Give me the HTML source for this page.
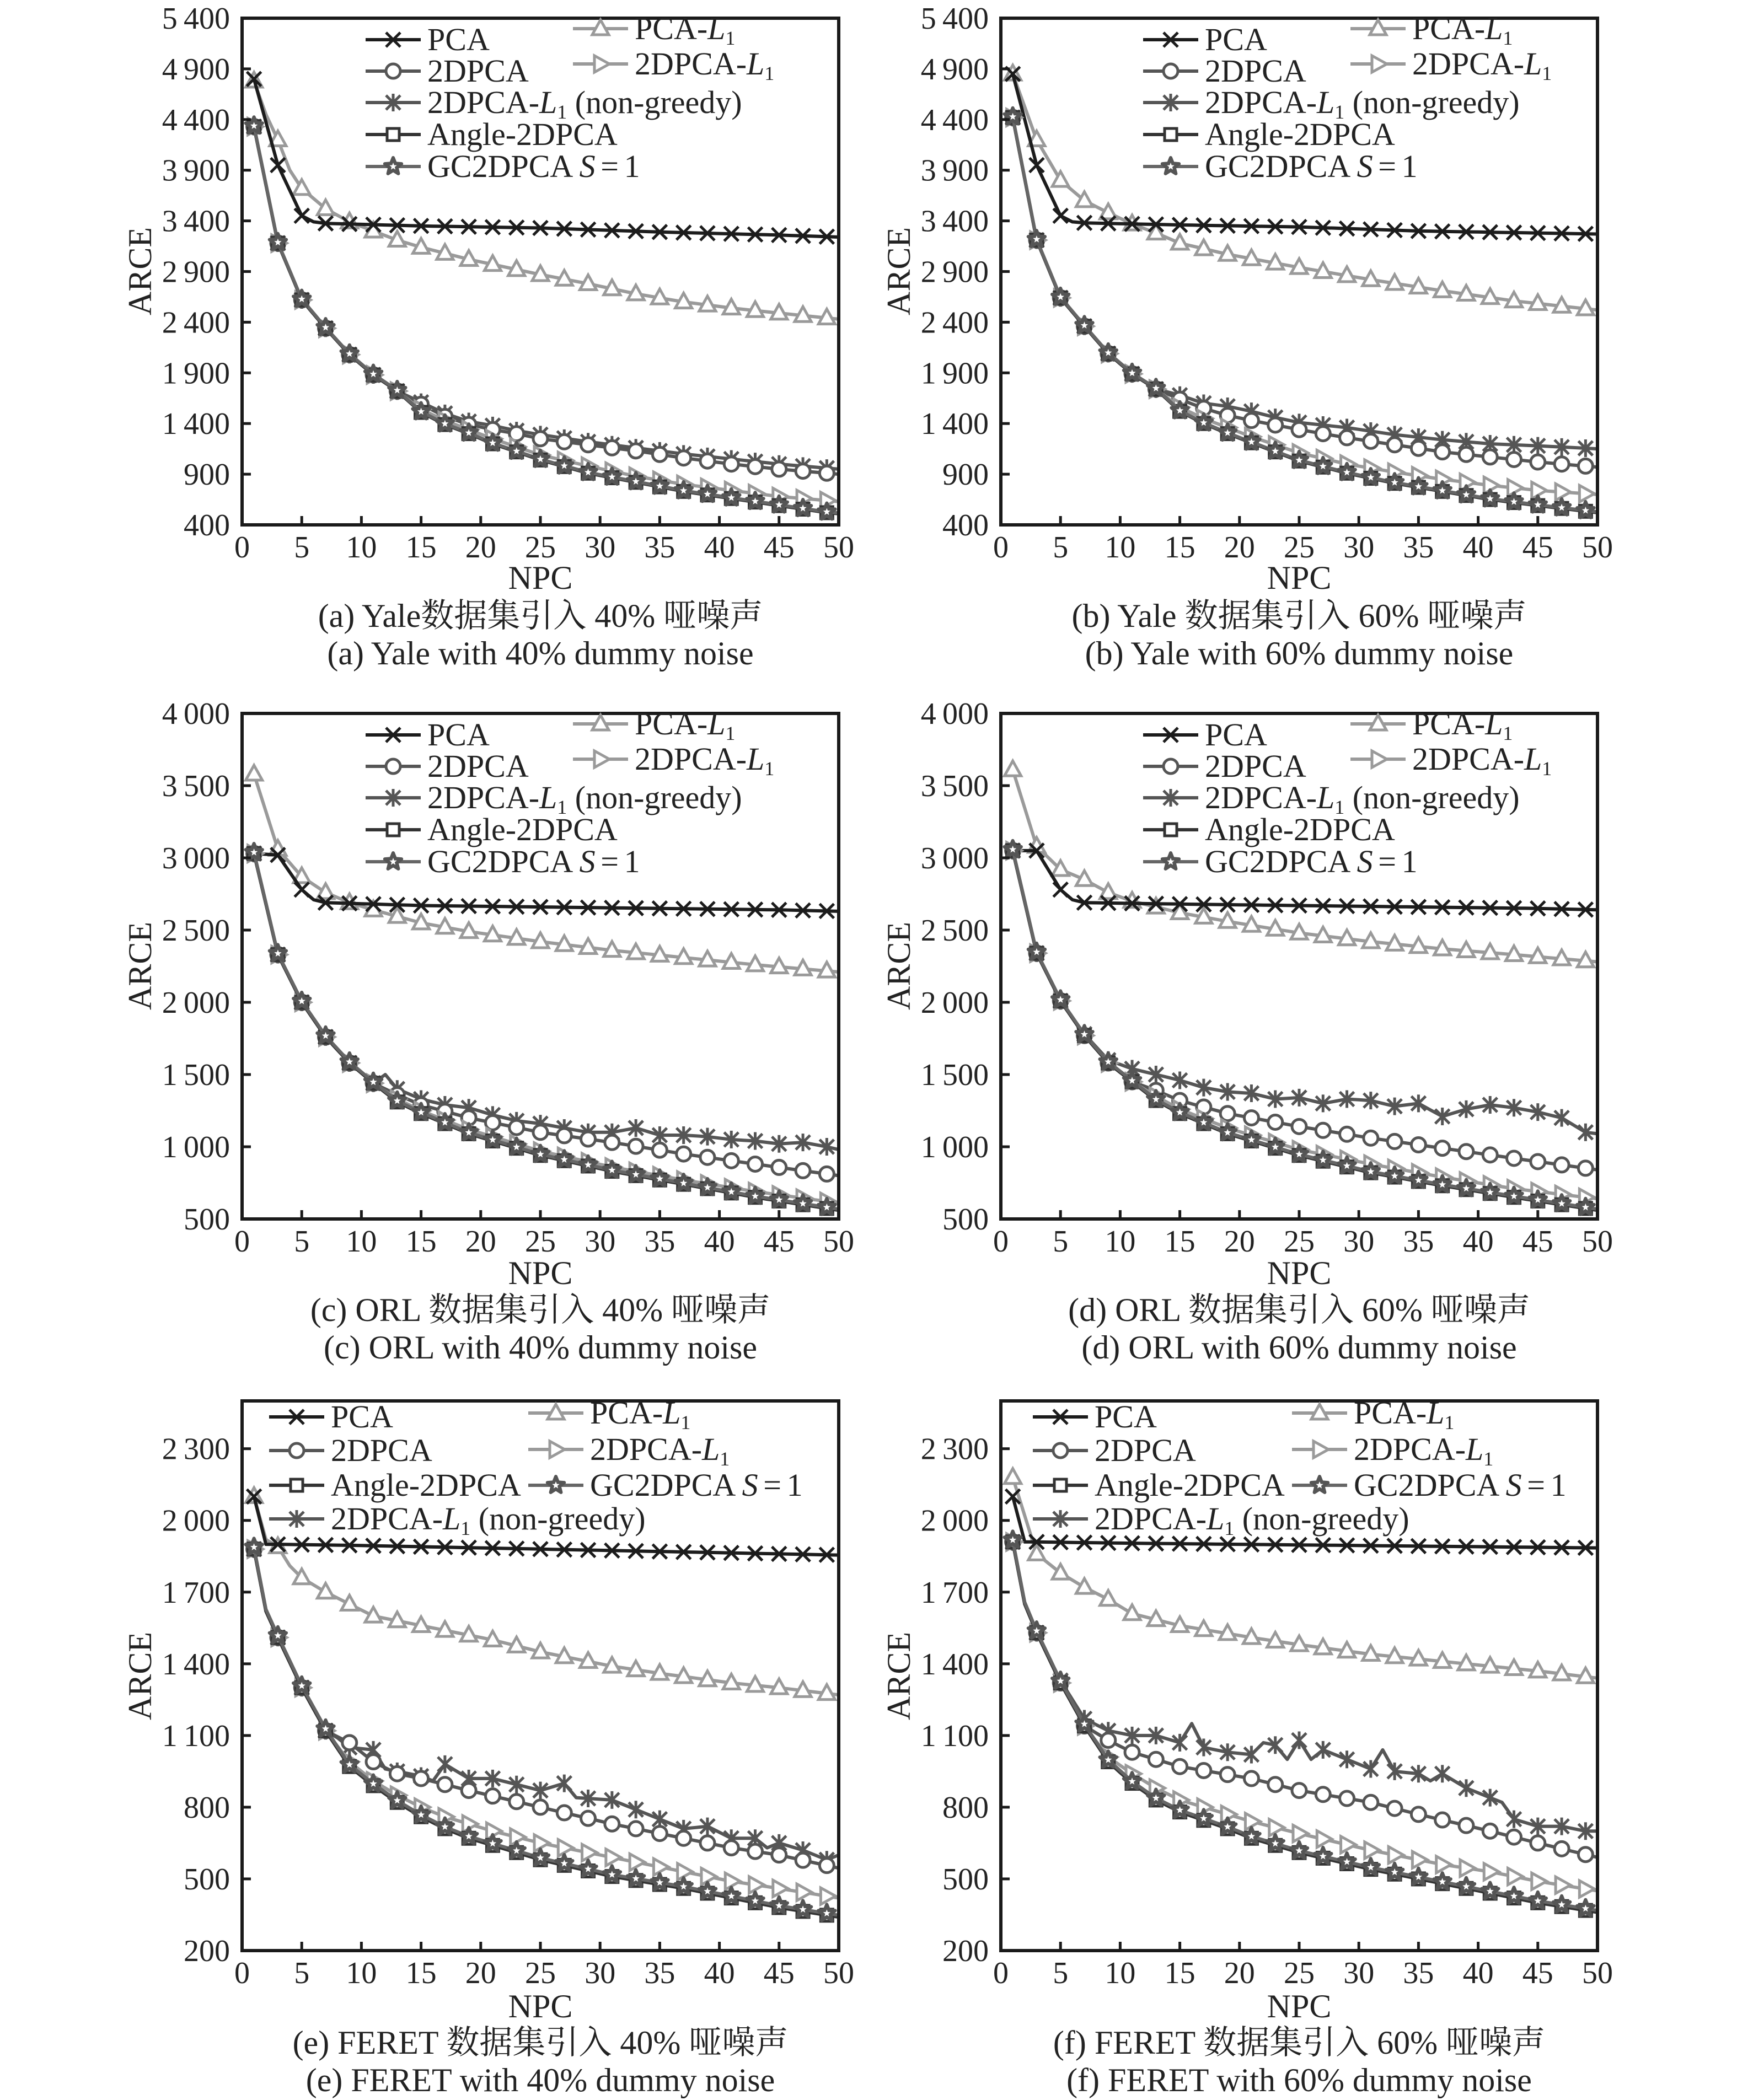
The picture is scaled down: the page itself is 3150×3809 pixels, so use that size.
<!DOCTYPE html>
<html><head><meta charset="utf-8"><style>
html,body{margin:0;padding:0;background:#fff}
svg{display:block}
text{font-family:"Liberation Serif","Noto Serif CJK SC",serif;fill:#222}
</style></head><body>
<svg id="s" xmlns="http://www.w3.org/2000/svg" width="3150" height="3809" viewBox="0 0 3150 3809">
<rect width="3150" height="3809" fill="#fff"/>
<g id="plots"></g>
<g font-size="60" text-anchor="middle">
<text x="980" y="1137">(a) Yale数据集引入 40% 哑噪声</text>
<text x="980" y="1205">(a) Yale with 40% dummy noise</text>
<text x="2356" y="1137">(b) Yale 数据集引入 60% 哑噪声</text>
<text x="2356" y="1205">(b) Yale with 60% dummy noise</text>
<text x="980" y="2396">(c) ORL 数据集引入 40% 哑噪声</text>
<text x="980" y="2464">(c) ORL with 40% dummy noise</text>
<text x="2356" y="2396">(d) ORL 数据集引入 60% 哑噪声</text>
<text x="2356" y="2464">(d) ORL with 60% dummy noise</text>
<text x="980" y="3725">(e) FERET 数据集引入 40% 哑噪声</text>
<text x="980" y="3793">(e) FERET with 40% dummy noise</text>
<text x="2356" y="3725">(f) FERET 数据集引入 60% 哑噪声</text>
<text x="2356" y="3793">(f) FERET with 60% dummy noise</text>
<text x="980" y="1068">NPC</text><text x="2356" y="1068">NPC</text>
<text x="980" y="2329">NPC</text><text x="2356" y="2329">NPC</text>
<text x="980" y="3659">NPC</text><text x="2356" y="3659">NPC</text>
<text transform="translate(274,492) rotate(-90)">ARCE</text>
<text transform="translate(1650,492) rotate(-90)">ARCE</text>
<text transform="translate(274,1752) rotate(-90)">ARCE</text>
<text transform="translate(1650,1752) rotate(-90)">ARCE</text>
<text transform="translate(274,3040) rotate(-90)">ARCE</text>
<text transform="translate(1650,3040) rotate(-90)">ARCE</text>
</g>
<g id="legends" font-size="58"></g>
</svg>
<script>
const NS="http://www.w3.org/2000/svg";
function el(t,a,p){const e=document.createElementNS(NS,t);for(const k in a)e.setAttribute(k,a[k]);(p||document.getElementById('plots')).appendChild(e);return e;}
const C={pca:"#1c1c1c",pcal1:"#9a9a9a",d2:"#555",d2l1:"#9a9a9a",ng:"#555",ang:"#333",gc:"#666"};
function marker(type,x,y,col,g){
 const r=13,sw=5;
 if(type=="pca"){el("path",{d:`M${x-r} ${y-r}L${x+r} ${y+r}M${x-r} ${y+r}L${x+r} ${y-r}`,stroke:col,"stroke-width":sw,fill:"none"},g);}
 else if(type=="d2"){el("circle",{cx:x,cy:y,r:r,fill:"#fff",stroke:col,"stroke-width":sw},g);}
 else if(type=="ng"){el("path",{d:`M${x-r} ${y-r}L${x+r} ${y+r}M${x-r} ${y+r}L${x+r} ${y-r}M${x} ${y-r-3}L${x} ${y+r+3}`,stroke:col,"stroke-width":sw,fill:"none"},g);}
 else if(type=="ang"){el("rect",{x:x-11,y:y-11,width:22,height:22,fill:"#fff",stroke:col,"stroke-width":sw},g);}
 else if(type=="pcal1"){el("path",{d:`M${x} ${y-16}L${x+15} ${y+11}L${x-15} ${y+11}Z`,fill:"#fff",stroke:col,"stroke-width":sw},g);}
 else if(type=="d2l1"){el("path",{d:`M${x-11} ${y-15}L${x+16} ${y}L${x-11} ${y+15}Z`,fill:"#fff",stroke:col,"stroke-width":sw},g);}
 else if(type=="gc"){let p="";for(let i=0;i<10;i++){const a=-Math.PI/2+i*Math.PI/5,rr=i%2?7:16;p+=(i?"L":"M")+(x+rr*Math.cos(a)).toFixed(1)+" "+(y+rr*Math.sin(a)).toFixed(1);}
  el("path",{d:p+"Z",fill:"#555",stroke:"#555","stroke-width":6,"stroke-linejoin":"round"},g);
  let q="";for(let i=0;i<10;i++){const a=-Math.PI/2+i*Math.PI/5,rr=i%2?3:7;q+=(i?"L":"M")+(x+rr*Math.cos(a)).toFixed(1)+" "+(y+rr*Math.sin(a)).toFixed(1);}
  el("path",{d:q+"Z",fill:"#fff"},g);}
}
function interp(k,x){for(let i=0;i<k.length-2;i+=2){if(x<=k[i+2]){const t=(x-k[i])/(k[i+2]-k[i]);return k[i+1]+t*(k[i+3]-k[i+1]);}}return k[k.length-1];}
const P=[
{L:439,T:33,H:919,ymin:400,ymax:5400,ticks:[400,900,1400,1900,2400,2900,3400,3900,4400,4900,5400],
 s:{pca:[1,4800,3,3950,5,3450,6,3390,7,3375,15,3350,25,3330,35,3290,45,3260,50,3240],
 pcal1:[1,4780,2,4450,3,4200,4,3900,5,3720,7,3520,9,3390,11,3300,13,3210,15,3140,17,3080,19,3020,21,2970,25,2870,29,2780,33,2680,37,2600,41,2540,45,2490,50,2430]},
 low:[1,4330,3,3180,5,2620,7,2340,9,2080,11,1880,13,1720],
 d2:[15,1590,17,1470,19,1390,21,1340,23,1300,25,1250,29,1190,33,1130,37,1060,41,1000,45,950,50,900],
 ng:[15,1610,17,1500,19,1420,21,1380,23,1330,25,1290,29,1220,33,1160,37,1100,41,1050,45,1000,50,950],
 d2l1:[15,1540,17,1430,19,1340,21,1250,23,1170,25,1090,29,980,33,880,37,800,41,740,45,680,49,640,50,630],
 ang:[15,1510,17,1390,19,1300,21,1200,23,1120,25,1040,29,910,33,820,37,730,41,660,45,590,49,520,50,510],leg:0,lx:224},
{L:1815,T:33,H:919,ymin:400,ymax:5400,ticks:[400,900,1400,1900,2400,2900,3400,3900,4400,4900,5400],
 s:{pca:[1,4850,3,3950,5,3450,6,3390,7,3380,15,3360,25,3340,35,3300,45,3280,50,3270],
 pcal1:[1,4850,3,4200,5,3800,7,3600,9,3480,11,3370,13,3280,15,3180,19,3070,25,2940,31,2820,37,2710,43,2610,50,2520]},
 low:[1,4420,3,3210,5,2640,7,2360,9,2090,11,1890,13,1740],
 d2:[15,1640,17,1550,19,1480,21,1430,25,1340,29,1260,33,1190,37,1120,41,1070,45,1020,50,970],
 ng:[15,1680,17,1600,19,1570,21,1520,23,1460,25,1410,29,1360,33,1290,37,1240,41,1200,45,1180,50,1150],
 d2l1:[15,1560,17,1450,19,1360,21,1270,25,1110,29,1000,33,920,37,850,41,790,45,740,50,700],
 ang:[15,1520,17,1400,19,1300,21,1210,25,1030,29,910,33,810,37,730,41,650,45,590,50,520],leg:0,lx:258},
{L:439,T:1294,H:917,ymin:500,ymax:4000,ticks:[500,1000,1500,2000,2500,3000,3500,4000],
 s:{pca:[1,3030,3,3020,5,2780,6,2710,7,2690,15,2670,25,2660,35,2650,45,2640,50,2630],
 pcal1:[1,3580,3,3060,5,2870,7,2760,9,2690,11,2640,15,2550,19,2490,25,2420,31,2360,37,2310,43,2260,50,2210]},
 low:[1,3030,3,2330,5,2000,7,1760,9,1580,11,1440],
 d2:[13,1360,15,1290,19,1200,25,1100,31,1030,37,950,43,880,50,800],
 ng:[12,1500,13,1400,15,1330,17,1290,19,1270,21,1220,23,1180,25,1160,27,1130,29,1100,31,1100,33,1130,35,1080,37,1080,39,1070,41,1050,43,1040,45,1020,47,1030,49,1000,50,980],
 d2l1:[13,1330,15,1250,19,1120,25,970,31,860,37,770,43,690,50,610],
 ang:[13,1310,15,1230,19,1090,25,940,31,830,37,740,43,650,50,560],leg:0,lx:224},
{L:1815,T:1294,H:917,ymin:500,ymax:4000,ticks:[500,1000,1500,2000,2500,3000,3500,4000],
 s:{pca:[1,3050,3,3050,5,2780,6,2710,7,2690,15,2680,25,2670,35,2660,45,2650,50,2640],
 pcal1:[1,3610,3,3080,5,2920,7,2850,9,2760,11,2700,15,2620,19,2560,25,2480,31,2420,37,2370,43,2330,50,2280],
 ng:[1,3050,3,2340,5,2010,7,1780,9,1600,11,1540,13,1500,15,1460,17,1410,19,1380,21,1370,23,1330,25,1340,27,1300,29,1330,31,1320,33,1280,35,1300,37,1210,39,1260,41,1290,43,1270,45,1240,47,1200,49,1100,50,1090]},
 low:[1,3050,3,2340,5,2010,7,1770,9,1580,11,1450],
 d2:[13,1390,15,1320,19,1230,25,1140,31,1060,37,990,43,920,50,840],
 d2l1:[13,1350,15,1260,19,1130,25,980,31,880,37,790,43,710,50,640],
 ang:[13,1320,15,1230,19,1090,25,940,31,820,37,730,43,650,50,560],leg:0,lx:258},
{L:439,T:2541,H:997,ymin:200,ymax:2500,ticks:[200,500,800,1100,1400,1700,2000,2300],
 s:{pca:[1,2100,2,1900,3,1900,10,1895,20,1885,30,1875,40,1865,50,1855],
 pcal1:[1,2100,2,1920,3,1890,4,1810,5,1760,7,1700,9,1650,11,1600,15,1560,21,1500,25,1450,31,1390,35,1360,41,1320,45,1300,50,1270]},
 low:[1,1880,2,1620,3,1510,5,1300,7,1120],
 d2:[9,1070,11,990,13,940,15,920,19,870,25,800,31,730,37,670,41,630,45,600,50,545],
 ng:[8,1090,9,1050,11,1040,12,960,13,950,15,930,16,910,17,980,19,920,21,920,25,870,27,900,28,840,31,830,32,810,33,790,35,750,37,710,39,720,41,670,43,670,44,630,45,650,47,620,49,580,50,600],
 d2l1:[9,990,11,910,13,850,15,800,17,760,19,730,21,700,25,650,31,590,37,530,41,490,45,460,50,420],
 ang:[9,970,11,890,13,820,15,760,17,710,19,670,21,640,25,580,31,510,37,460,41,420,45,380,50,340],leg:1,lx:49},
{L:1815,T:2541,H:997,ymin:200,ymax:2500,ticks:[200,500,800,1100,1400,1700,2000,2300],
 s:{pca:[1,2100,2,1910,3,1910,10,1905,20,1900,30,1895,40,1890,50,1885],
 pcal1:[1,2180,3,1860,5,1780,7,1720,9,1670,11,1610,15,1560,21,1510,25,1480,31,1440,35,1420,41,1390,45,1370,50,1340],
 ng:[1,1910,2,1650,3,1530,5,1330,7,1170,9,1120,11,1100,13,1100,15,1070,16,1150,17,1050,19,1030,21,1020,22,1070,23,1060,24,1000,25,1080,26,1000,27,1040,29,1000,31,960,32,1040,33,950,35,940,36,910,37,940,39,880,41,840,42,820,43,750,45,720,47,720,49,700,50,700]},
 low:[1,1910,2,1650,3,1530,5,1320,7,1140],
 d2:[9,1080,11,1030,13,1000,15,970,21,920,25,870,31,820,35,770,41,700,45,650,50,590],
 d2l1:[9,1010,11,940,13,880,15,830,19,770,21,740,25,690,31,620,37,560,41,530,45,490,50,450],
 ang:[9,990,11,900,13,830,15,780,19,710,21,670,25,610,31,540,37,480,41,440,45,400,50,360],leg:1,lx:58}
];
const W=1082;
const lg=document.getElementById('legends');
function fmt(v){return v>=1000?Math.floor(v/1000)+"\u2009"+String(v%1000).padStart(3,"0"):String(v);}
P.forEach(p=>{
 const X=x=>p.L+x/50*W, Y=v=>p.T+p.H*(p.ymax-v)/(p.ymax-p.ymin);
 const g=el("g",{});
 const S=Object.assign({},p.s);
 ["d2","ng","d2l1","ang"].forEach(k=>{if(!S[k])S[k]=p.low.concat(p[k]);});
 S.gc=S.ang.map((v,i)=>i%2? v+8 : v);
 const order=["pcal1","pca","ng","d2","d2l1","ang","gc"];
 order.forEach(k=>{
  let d="";for(let x=1;x<=50;x++)d+=(x>1?"L":"M")+X(x).toFixed(1)+" "+Y(interp(S[k],x)).toFixed(1);
  el("path",{d:d,fill:"none",stroke:C[k],"stroke-width":6,"stroke-linejoin":"round"},g);
  for(let x=1;x<=49;x+=2)marker(k,X(x),Y(interp(S[k],x)),C[k],g);
 });
 el("rect",{x:p.L,y:p.T,width:W,height:p.H,fill:"none",stroke:"#1a1a1a","stroke-width":6},g);
 for(let i=1;i<10;i++){const x=X(i*5);el("line",{x1:x,x2:x,y1:p.T+p.H,y2:p.T+p.H-16,stroke:"#1a1a1a","stroke-width":5},g);}
 p.ticks.forEach(v=>{const y=Y(v);el("line",{x1:p.L,x2:p.L+16,y1:y,y2:y,stroke:"#1a1a1a","stroke-width":5},g);
  const t=el("text",{x:p.L-22,y:y+19,"text-anchor":"end","font-size":56},g);t.textContent=fmt(v);});
 for(let i=0;i<=10;i++){const t=el("text",{x:X(i*5),y:p.T+p.H+59,"text-anchor":"middle","font-size":56},g);t.textContent=String(i*5);}
 let items;
 if(p.leg==0){const o=p.lx;items=[
  ["pca",o,39,"PCA"],["d2",o,96,"2DPCA"],["ng",o,153,"NG"],["ang",o,211,"Angle-2DPCA"],["gc",o,269,"GC"],
  ["pcal1",o+376,19,"PL1"],["d2l1",o+376,83,"DL1"]];}
 else {const o=p.lx;items=[
  ["pca",o,29,"PCA"],["d2",o,90,"2DPCA"],["ang",o,153,"Angle-2DPCA"],["ng",o,214,"NG"],
  ["pcal1",o+470,22,"PL1"],["d2l1",o+470,88,"DL1"],["gc",o+470,153,"GC"]];}
 items.forEach(([k,ox,oy,lab])=>{
  const x0=p.L+ox,y=p.T+oy;
  el("line",{x1:x0,x2:x0+100,y1:y,y2:y,stroke:C[k],"stroke-width":6},lg);
  marker(k,x0+50,y,C[k],lg);
  const t=el("text",{x:x0+112,y:y+19,"font-size":58},lg);
  const add=(s,att)=>{const ts=el("tspan",att||{},t);ts.textContent=s;};
  if(lab=="NG"){add("2DPCA-");add("L",{"font-style":"italic"});add("1",{"font-size":36,dy:10});add(" (non-greedy)",{dy:-10});}
  else if(lab=="PL1"){add("PCA-");add("L",{"font-style":"italic"});add("1",{"font-size":36,dy:10});}
  else if(lab=="DL1"){add("2DPCA-");add("L",{"font-style":"italic"});add("1",{"font-size":36,dy:10});}
  else if(lab=="GC"){add("GC2DPCA ");add("S",{"font-style":"italic"});add("\u2006=\u20061");}
  else add(lab);
 });
});
</script>
</body></html>
